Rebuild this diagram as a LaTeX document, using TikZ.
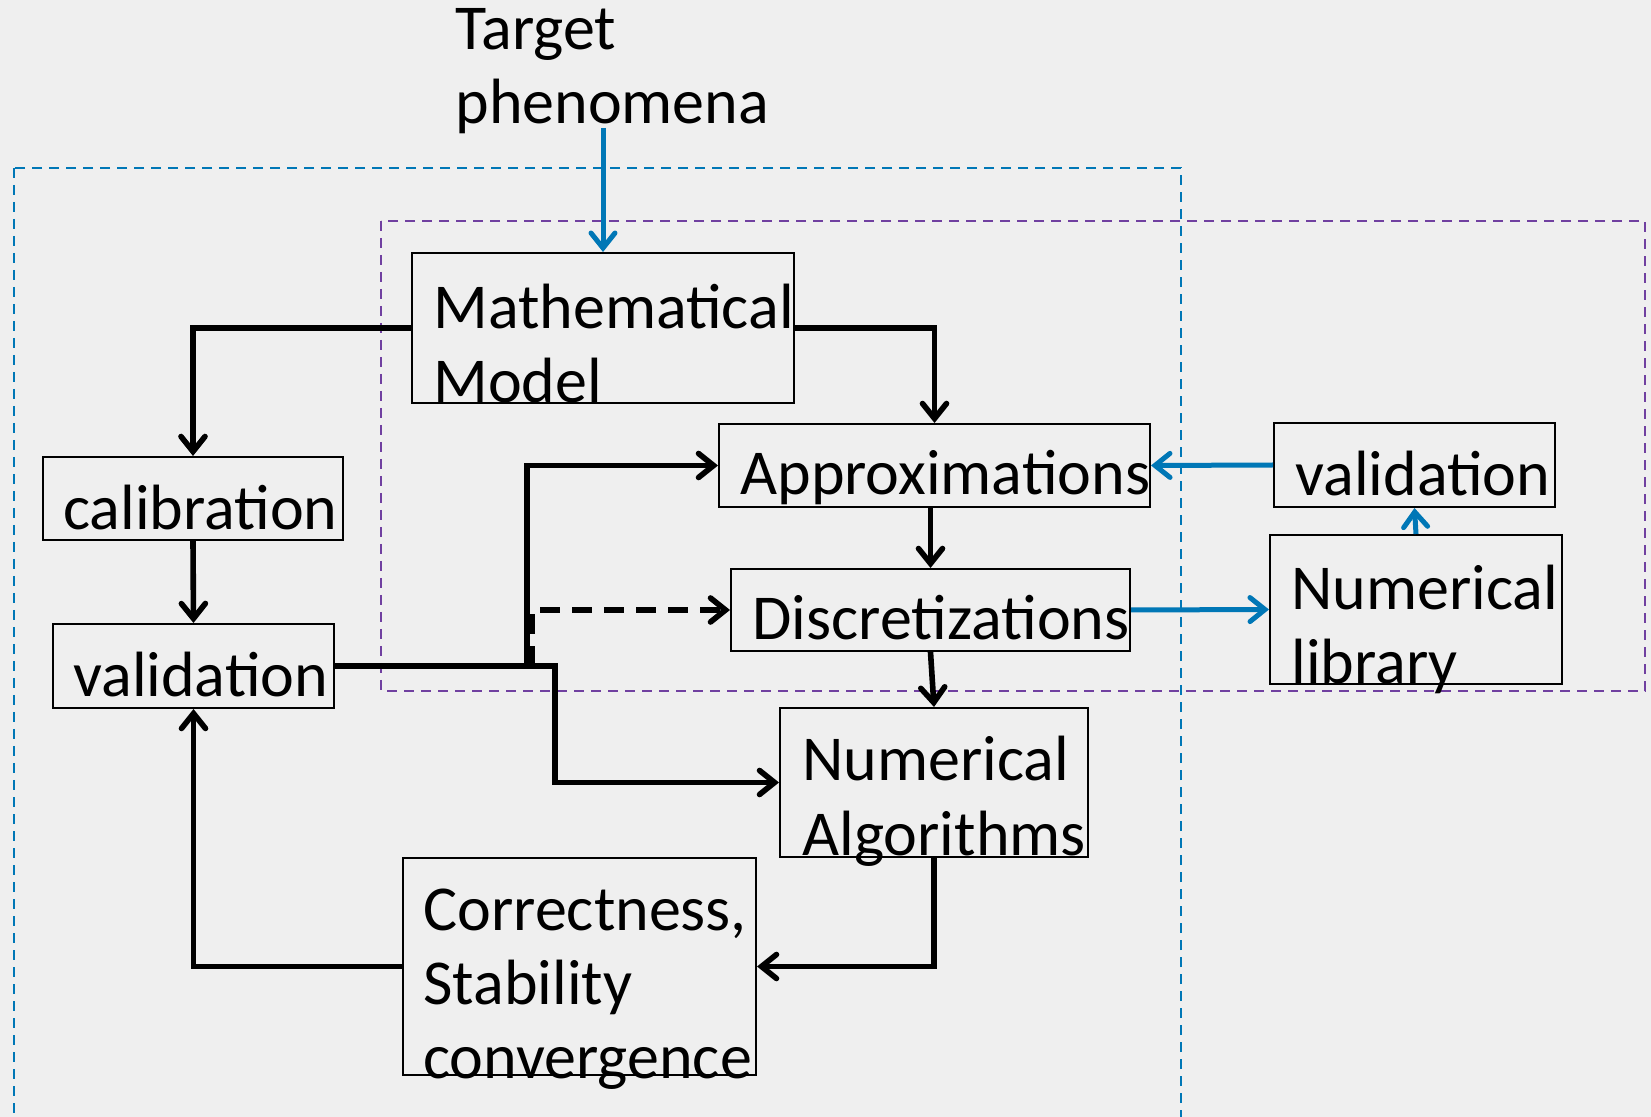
\documentclass[tikz,border=0pt]{standalone}
\usepackage{fontspec}
\setmainfont{Carlito}
\usetikzlibrary{arrows.meta,positioning,fit}
\definecolor{ppblue}{RGB}{0,119,182}
\definecolor{pppurple}{RGB}{112,64,160}
\definecolor{ppback}{RGB}{239,239,239}

\begin{document}
\begin{tikzpicture}[x=0.5pt,y=-0.5pt,
  box/.style={draw,line width=1pt,inner sep=0pt,fit={#1}},
  txt/.style={anchor=base west,align=left,inner sep=0pt,font=\fontsize{32}{37}\selectfont},
  arr/.style={line width=2.8pt,-{Straight Barb[length=7.5pt,width=12pt,line cap=round]}},
  barr/.style={arr,draw=ppblue,line width=2.5pt},
  frame/.style={dash pattern=on 5pt off 3.5pt,line width=0.8pt}]
\useasboundingbox (0,0) rectangle (1651,1117);
\fill[ppback] (0,0) rectangle (1651,1117);
\clip (0,0) rectangle (1651,1117);

\draw[frame,ppblue] (14,168) rectangle (1181,1140);
\draw[frame,pppurple] (381,221) rectangle (1645,691);

\node[box={(412,253) (794,403)}] (math) {};
\node[box={(719,424) (1150,507)}] (approx) {};
\node[box={(731,569) (1130,651)}] (disc) {};
\node[box={(780,708) (1088,857)}] (numalg) {};
\node[box={(403,858) (756,1075)}] (corr) {};
\node[box={(43,457) (343,540)}] (calib) {};
\node[box={(53,624) (334,708)}] (valL) {};
\node[box={(1274,423) (1555,507)}] (valR) {};
\node[box={(1270,535) (1562,684)}] (numlib) {};

\node[txt] (target) at (455,124) {Target\\phenomena};
\node[txt] (mathtxt) at (433,403) {Mathematical\\Model};
\node[txt] (approxtxt) at (740,495) {Approximations};
\node[txt] (disctxt) at (752,640) {Discretizations};
\node[txt] (numalgtxt) at (802,855) {Numerical\\Algorithms};
\node[txt] (corrtxt) at (423,1078) {Correctness,\\Stability\\convergence};
\node[txt] (calibtxt) at (63,530) {calibration};
\node[txt] (valLtxt) at (73,697) {validation};
\node[txt] (valRtxt) at (1295,496) {validation};
\node[txt] (numlibtxt) at (1291,683) {Numerical\\library};

\coordinate (tp) at (603,128);
\coordinate (jA) at (527,0);
\coordinate (jB) at (555,0);
\coordinate (jC) at (532,0);

\draw[arr] (math.west) -| (calib.north);
\draw[arr] (math.east) -| (approx.north);
\draw[arr] (calib.south) -- (valL.north);
\draw[arr] (disc.north |- approx.south) -- (disc.north);
\draw[arr] (disc.south) -- (numalg.north);
\draw[arr] (numalg.south) |- (corr.east);
\draw[arr] (corr.west) -| (valL.south);
\draw[arr] (valL.east) -| (jA |- approx.west) -- (approx.west);
\draw[arr] (valL.east) -| (jB |- numalg.west) -- (numalg.west);
\draw[arr,dash pattern=on 10pt off 6pt] (jC |- valL.east) |- (disc.west);

\draw[barr] (tp) -- (math.north);
\draw[barr] (valR.west) -- (approx.east);
\draw[barr] (numlib.north) -- (valR.south);
\draw[barr] (disc.east) -- (numlib.west);
\end{tikzpicture}
\end{document}
